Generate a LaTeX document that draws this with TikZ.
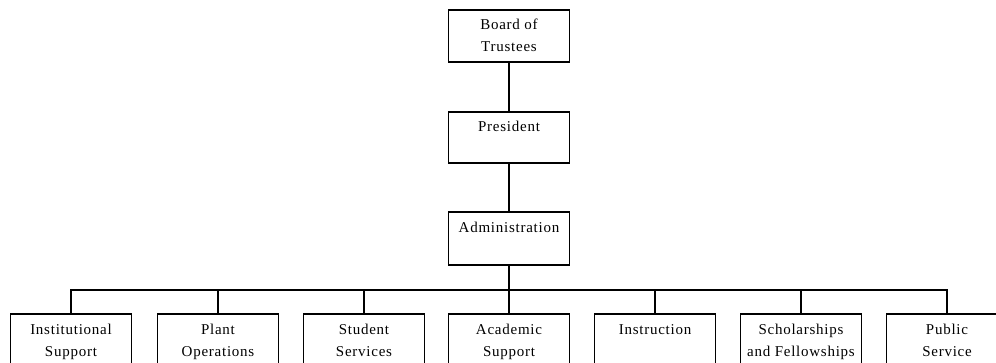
\documentclass[tikz,border=0pt]{standalone}
\usepackage{fontspec}
\setmainfont{Liberation Serif}
\newfontfamily\lsf[LetterSpace=5]{Liberation Serif}
\begin{document}
\begin{tikzpicture}[x=1pt,y=-1pt,
  box/.style={draw=black,line width=1.7pt,rectangle,minimum width=121pt,minimum height=52pt,inner sep=0pt,anchor=north},
  lbl/.style={anchor=north,inner sep=0pt,align=center,font=\fontsize{15}{21.5}\lsf},
  conn/.style={draw=black,line width=1.7pt}]
\useasboundingbox (0,0) rectangle (996,362);
\clip (0,0) rectangle (996,362);
\fill[white] (0,0) rectangle (996,362);
% top chain
\node[box] (bt) at (509,9) {};
\node[lbl] (btl) at ([yshift=-10pt]bt.north) {Board of\\Trustees};
\node[box,minimum height=51pt] (pr) at (509,111) {};
\node[lbl] (prl) at ([yshift=-10pt]pr.north) {President};
\node[box,minimum height=53pt] (ad) at (509,211) {};
\node[lbl] (adl) at ([yshift=-11pt]ad.north) {Administration};
\draw[conn] (bt.south) -- (pr.north);
\draw[conn] (pr.south) -- (ad.north);
% bottom row
\coordinate (bus) at (509,290);
\foreach \nm/\xx/\txt in {is/71/{Institutional\\Support},
                          po/218/{Plant\\Operations},
                          ss/364/{Student\\Services},
                          as/509/{Academic\\Support},
                          in/655/{Instruction},
                          sf/801/{Scholarships\\and Fellowships},
                          ps/947/{Public\\Service}}{
  \node[box,minimum height=60pt] (\nm) at (\xx,313) {};
  \node[lbl] (\nm l) at ([yshift=-11pt]\nm.north) {\txt};
  \coordinate (\nm b) at (\xx,290);
  \draw[conn] (\nm b) -- (\nm.north);
}
\draw[conn] (ad.south) -- (bus);
\draw[conn,line cap=rect] (isb) -- (psb);
\end{tikzpicture}
\end{document}
